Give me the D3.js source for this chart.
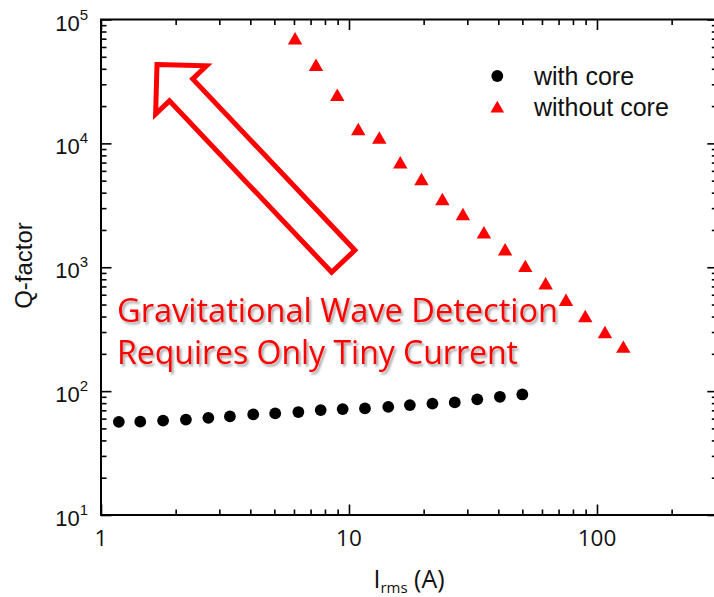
<!DOCTYPE html>
<html><head><meta charset="utf-8">
<script src="https://cdn.jsdelivr.net/npm/d3@7"></script>
<style>body{margin:0;background:#fff}svg{display:block}text{font-variant-ligatures:none}</style>
</head><body>
<svg id="c" width="714" height="597"></svg>
<script>
// ---- data ----
const withCoreI = [1.18, 1.44, 1.78, 2.2, 2.71, 3.31, 4.11, 5.04, 6.25, 7.69, 9.43, 11.6, 14.4, 17.6, 21.7, 26.7, 32.9, 40.6, 50.0];
const withCoreQ = [56.5, 56.7, 57.8, 58.9, 60.9, 62.5, 64.9, 66.1, 67.8, 70.3, 71.6, 72.5, 74.6, 77.1, 79.3, 81.1, 85.9, 90.0, 94.0];
const withoutCoreI = [6.06, 7.36, 8.97, 10.9, 13.25, 16.1, 19.6, 23.8, 28.8, 35.0, 42.6, 51.4, 62.1, 75.0, 89.7, 107.7, 127.7];
const withoutCoreQ = [67800, 41550, 23770, 12590, 10730, 6760, 4965, 3425, 2583, 1846, 1346, 987, 715, 526, 389, 289, 220];
const xTickValues = [1, 10, 100];
const xTickLabels = ["1", "10", "100"];
const yTickValues = [10, 100, 1000, 10000, 100000];
const yTickExponents = ["1", "2", "3", "4", "5"];
const legendLabels = ["with core", "without core"];
const annotationLines = ["Gravitational Wave Detection", "Requires Only Tiny Current"];
const arrowTip = [1.682, 43350];
const arrowTail = [9.48, 1118];

const svg = d3.select("#c");
const L = 101, R = 715.3, T = 19.5, B = 515;
const x = d3.scaleLog().domain([1, 300]).range([L, R]);
const y = d3.scaleLog().domain([10, 1e5]).range([B, T]);

const defs = svg.append("defs");
const f = defs.append("filter").attr("id", "sh").attr("x", "-5%").attr("y", "-20%").attr("width", "115%").attr("height", "150%");
f.append("feDropShadow").attr("dx", 2).attr("dy", 2.5).attr("stdDeviation", 1.3).attr("flood-color", "#000").attr("flood-opacity", 0.35);

// minor tick values
const xMinor = [], yMinor = [];
[1, 10, 100].forEach(d => { for (let k = 2; k <= 9; k++) { const v = k * d; if (v <= 300) xMinor.push(v); } });
[10, 100, 1000, 10000].forEach(d => { for (let k = 2; k <= 9; k++) yMinor.push(k * d); });

function axis(fn, scale, vals, size, tr) {
  svg.append("g").attr("transform", tr)
    .call(fn(scale).tickValues(vals).tickSizeInner(size).tickSizeOuter(0).tickFormat(""))
    .call(g => g.select(".domain").remove())
    .selectAll("line").attr("stroke", "#000").attr("stroke-width", 1.6);
}
axis(d3.axisBottom, x, xTickValues, -10.5, `translate(0,${B})`);
axis(d3.axisBottom, x, xMinor, -5.5, `translate(0,${B})`);
axis(d3.axisTop, x, xTickValues, -10.5, `translate(0,${T})`);
axis(d3.axisTop, x, xMinor, -5.5, `translate(0,${T})`);
axis(d3.axisLeft, y, yTickValues, -10.5, `translate(${L},0)`);
axis(d3.axisLeft, y, yMinor, -5.5, `translate(${L},0)`);
axis(d3.axisRight, y, yTickValues, -8, `translate(${R},0)`);
axis(d3.axisRight, y, yMinor, -3.5, `translate(${R},0)`);

svg.append("rect").attr("x", L).attr("y", T).attr("width", R - L).attr("height", B - T)
  .attr("fill", "none").attr("stroke", "#000").attr("stroke-width", 2);

// tick labels
svg.append("g").selectAll("text").data(xTickValues).join("text")
  .attr("x", d => x(d)).attr("y", 546).attr("text-anchor", "middle")
  .attr("font-family", "Open Sans").attr("font-size", 22.5).attr("fill", "#111")
  .text((d, i) => xTickLabels[i]);

const yl = svg.append("g").selectAll("text").data(yTickValues).join("text")
  .attr("x", 88).attr("y", d => y(d) + 11).attr("text-anchor", "end")
  .attr("font-family", "Liberation Sans").attr("fill", "#111");
yl.append("tspan").attr("font-size", 22).text("10");
yl.append("tspan").attr("font-size", 15).attr("dy", -11).text((d, i) => yTickExponents[i]);

// axis titles
svg.append("text").attr("transform", `translate(32,265.5) rotate(-90)`).attr("text-anchor", "middle")
  .attr("font-family", "Liberation Sans").attr("font-size", 24).attr("fill", "#111").text("Q-factor");
const xt = svg.append("text").attr("x", 409).attr("y", 587.5).attr("text-anchor", "middle")
  .attr("font-family", "Open Sans").attr("font-size", 25).attr("fill", "#111");
xt.append("tspan").text("I");
xt.append("tspan").attr("font-size", 15).attr("dy", 5).text("rms");
xt.append("tspan").attr("dy", -5).text(" (A)");

// arrow annotation
(function () {
  const p0 = [x(arrowTip[0]), y(arrowTip[1])], p1 = [x(arrowTail[0]), y(arrowTail[1])];
  const dx = p1[0] - p0[0], dy = p1[1] - p0[1], len = Math.hypot(dx, dy);
  const u = [dx / len, dy / len], n = [u[1], -u[0]];
  const headLen = 35, headHalf = 35, shaftHalf = 16;
  const pt = (a, b) => [p0[0] + u[0] * a + n[0] * b, p0[1] + u[1] * a + n[1] * b];
  const pts = [pt(0, 0), pt(headLen, headHalf), pt(headLen, shaftHalf), pt(len, shaftHalf),
               pt(len, -shaftHalf), pt(headLen, -shaftHalf), pt(headLen, -headHalf)];
  svg.append("path").attr("d", d3.line()(pts) + "Z").attr("fill", "#fff")
    .attr("stroke", "#ff0000").attr("stroke-width", 5).attr("stroke-linejoin", "miter").attr("stroke-miterlimit", 10);
})();

// annotation text
const widths = [441, 401];
svg.append("g").attr("filter", "url(#sh)").selectAll("text").data(annotationLines).join("text")
  .attr("x", 117).attr("y", (d, i) => 321.5 + i * 42)
  .attr("font-family", "Open Sans").attr("font-size", 33).attr("fill", "#ff0000")
  .attr("textLength", (d, i) => widths[i]).attr("lengthAdjust", "spacingAndGlyphs")
  .text(d => d);

// data
svg.append("g").selectAll("circle").data(withCoreI).join("circle")
  .attr("cx", d => x(d)).attr("cy", (d, i) => y(withCoreQ[i])).attr("r", 5.9).attr("fill", "#000");
svg.append("g").selectAll("path").data(withoutCoreI).join("path")
  .attr("d", d3.symbol(d3.symbolTriangle, 90))
  .attr("transform", (d, i) => `translate(${x(d)},${y(withoutCoreQ[i])})`).attr("fill", "#ff0000");

// legend
svg.append("circle").attr("cx", 497.3).attr("cy", 76).attr("r", 5.9).attr("fill", "#000");
svg.append("path").attr("d", d3.symbol(d3.symbolTriangle, 80)).attr("transform", "translate(497.3,108.5)").attr("fill", "#ff0000");
svg.append("g").selectAll("text").data(legendLabels).join("text")
  .attr("x", 534).attr("y", (d, i) => 85 + i * 31)
  .attr("font-family", "Liberation Sans").attr("font-size", 25).attr("fill", "#111").text(d => d);
</script>
</body></html>
